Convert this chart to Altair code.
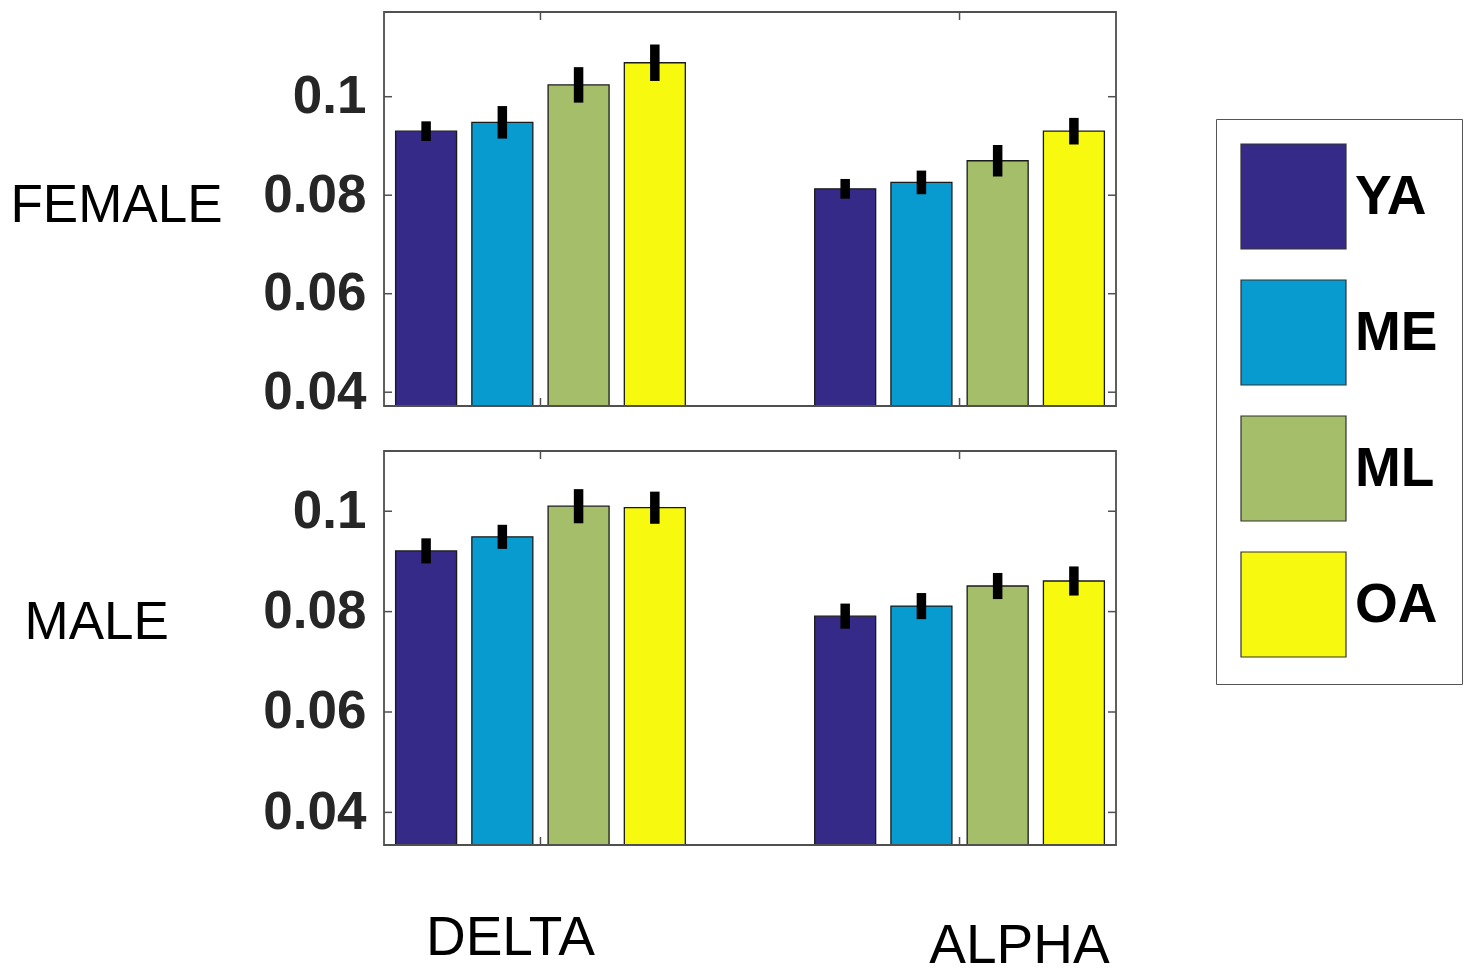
import altair as alt
import pandas as pd

# Groups, age classes and colours
bands = ["DELTA", "ALPHA"]
ages = ["YA", "ME", "ML", "OA"]
age_colors = ["#352A87", "#079BCF", "#A5BE6A", "#F7F90E"]

# Mean relative power and error per band / age class
female_delta_mean = [0.0930, 0.0948, 0.1024, 0.1069]
female_delta_err = [0.0020, 0.0033, 0.0036, 0.0037]
female_alpha_mean = [0.0813, 0.0826, 0.0870, 0.0930]
female_alpha_err = [0.0020, 0.0024, 0.0032, 0.0027]
male_delta_mean = [0.0921, 0.0949, 0.1010, 0.1007]
male_delta_err = [0.0025, 0.0024, 0.0034, 0.0032]
male_alpha_mean = [0.0791, 0.0811, 0.0851, 0.0861]
male_alpha_err = [0.0025, 0.0026, 0.0026, 0.0029]

y_ticks = [0.04, 0.06, 0.08, 0.1]

FONT = "Liberation Sans"
FRAME = "#505050"
W, H = 732, 394
TICK = 8

rows = []
for sex, series in [
    ("FEMALE", [(female_delta_mean, female_delta_err), (female_alpha_mean, female_alpha_err)]),
    ("MALE", [(male_delta_mean, male_delta_err), (male_alpha_mean, male_alpha_err)]),
]:
    for band, (means, errs) in zip(bands, series):
        for age, m, e in zip(ages, means, errs):
            rows.append({"sex": sex, "band": band, "age": age, "value": m, "err": e})
df = pd.DataFrame(rows)
ticks_df = pd.DataFrame({"tick": y_ticks})
bands_df = pd.DataFrame({"band": bands})
box_df = pd.DataFrame({"box": [0]})

x_scale = alt.Scale(domain=bands, paddingInner=0.2723, paddingOuter=0.0095)
xo_scale = alt.Scale(domain=ages, paddingInner=0.2, paddingOuter=0.1)

legend = alt.Legend(
    orient="none", legendX=832, legendY=107, title=None,
    symbolType="square", symbolSize=11025, symbolStrokeColor="#333333",
    symbolStrokeWidth=1.2, labelFontSize=55, labelFontWeight="bold",
    labelFont=FONT, labelColor="black", labelOffset=8, rowPadding=25,
    padding=24, strokeColor="#555555", direction="vertical",
)


def panel(sex, domain, title_x, title_y, extra=None):
    y_scale = alt.Scale(domain=domain, nice=False, zero=False)
    y_axis = alt.Axis(
        values=y_ticks, format="~g", ticks=False, tickSize=0, domain=False,
        grid=False, labelPadding=18, labelFontSize=53, labelFontWeight="bold",
        labelColor="#262626", labelFont=FONT, title=sex, titleAngle=0,
        titleAlign="left", titleBaseline="middle", titleX=title_x,
        titleY=title_y, titleFontSize=53, titleFontWeight="normal",
        titleColor="black", titleFont=FONT,
    )
    x = alt.X("band:N", scale=x_scale, axis=None)
    xo = alt.XOffset("age:N", scale=xo_scale)
    base = alt.Chart(df).transform_filter(alt.datum.sex == sex)

    bars = base.mark_bar(clip=True, stroke="#1a1a1a", strokeWidth=1.3).encode(
        x=x, xOffset=xo,
        y=alt.Y("value:Q", scale=y_scale, axis=y_axis),
        color=alt.Color("age:N", scale=alt.Scale(domain=ages, range=age_colors), legend=legend),
    )
    errs = base.transform_calculate(
        lo="datum.value - datum.err", hi="datum.value + datum.err"
    ).mark_rule(color="black", strokeWidth=9.5).encode(
        x=x, xOffset=xo,
        y=alt.Y("lo:Q", scale=y_scale, axis=y_axis), y2="hi:Q",
    )
    # axes box
    frame = alt.Chart(box_df).mark_rect(
        filled=False, stroke=FRAME, strokeWidth=1.8
    ).encode(x=alt.value(0), x2=alt.value(W), y=alt.value(0), y2=alt.value(H))
    # inward tick marks on all four sides of the box
    left_ticks = alt.Chart(ticks_df).mark_rule(color=FRAME, strokeWidth=1.5).encode(
        y=alt.Y("tick:Q", scale=y_scale, axis=y_axis),
        x=alt.value(0), x2=alt.value(TICK),
    )
    right_ticks = alt.Chart(ticks_df).mark_rule(color=FRAME, strokeWidth=1.5).encode(
        y=alt.Y("tick:Q", scale=y_scale, axis=y_axis),
        x=alt.value(W - TICK), x2=alt.value(W),
    )
    top_ticks = alt.Chart(bands_df).mark_rule(color=FRAME, strokeWidth=1.5).encode(
        x=alt.X("band:N", scale=x_scale, axis=None),
        y=alt.value(0), y2=alt.value(TICK),
    )
    bottom_ticks = alt.Chart(bands_df).mark_rule(color=FRAME, strokeWidth=1.5).encode(
        x=alt.X("band:N", scale=x_scale, axis=None),
        y=alt.value(H - TICK), y2=alt.value(H),
    )
    layers = [bars, errs, frame, left_ticks, right_ticks, top_ticks, bottom_ticks]
    if extra:
        layers += extra
    return alt.layer(*layers).properties(width=W, height=H)


def band_label(name, dx, dy):
    return alt.Chart(pd.DataFrame({"band": [name]})).mark_text(
        font=FONT, fontSize=55, color="black", dx=dx, dy=dy, baseline="alphabetic"
    ).encode(
        x=alt.X("band:N", scale=x_scale, axis=None),
        y=alt.value(H),
        text="band:N",
    )


top = panel("FEMALE", [0.0372, 0.1172], -374, 193)
bottom = panel(
    "MALE", [0.0335, 0.1120], -360, 171,
    extra=[band_label("DELTA", -30, 110), band_label("ALPHA", 60, 118)],
)

chart = alt.vconcat(top, bottom, spacing=45, bounds="flush").properties(
    padding={"left": 9, "top": 10, "right": 4, "bottom": 0}
).configure_view(stroke=FRAME, strokeWidth=1.5).configure(background="white")

chart.save("out.html", embed_options={"renderer": "svg", "actions": False})
